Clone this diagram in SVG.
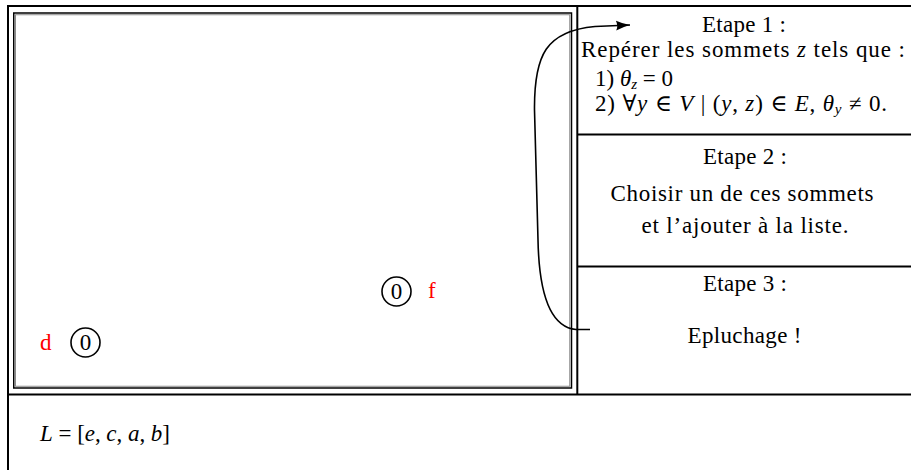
<svg xmlns="http://www.w3.org/2000/svg" width="911" height="470" viewBox="0 0 911 470">
<defs>
<style>
 text { font-family: "Liberation Serif", "DejaVu Serif", serif; font-size: 23px; fill: #000; }
 .c { text-anchor: middle; }
 .i { font-style: italic; }
 .s { font-size: 15px; }
 .red { fill: #ff0000; }
 .rule { stroke: #000; stroke-width: 2; fill: none; }
 .inner { stroke: #000; stroke-width: 1.5; fill: none; }
 .inner2 { stroke: #8a8a8a; stroke-width: 1; fill: none; }
 .node { fill: #fff; stroke: #000; stroke-width: 1.6; }
 .edge { fill: none; stroke: #000; stroke-width: 1.6; }
</style>
<marker id="ah" markerWidth="16" markerHeight="12" refX="14" refY="6" orient="auto" markerUnits="userSpaceOnUse">
 <path d="M0,1 Q7,4.5 14,6 Q7,7.5 0,11 Q2.5,6 0,1 Z" fill="#000"/>
</marker>
</defs>
<rect width="911" height="470" fill="#fff"/>

<g id="layout">
 <path class="rule" d="M8,470 V6 H911"/>
 <path class="rule" d="M8,394.5 H911"/>
 <path class="rule" d="M577.3,6 V394.5"/>
 <path class="rule" d="M577.3,134.5 H911 M577.3,266.5 H911"/>
 <rect class="inner" x="13.75" y="13" width="557.75" height="375"/>
 <rect class="inner2" x="15.5" y="14.75" width="554.25" height="371.5"/>
</g>

<g id="step1">
 <text class="c" x="744" y="32" textLength="84">Etape 1 :</text>
 <text class="c" x="743" y="57" textLength="324">Repérer les sommets <tspan class="i">z</tspan> tels que :</text>
 <text x="595" y="86">1) <tspan class="i">θ</tspan><tspan class="i s" dy="3">z</tspan><tspan dy="-3"> = 0</tspan></text>
 <text x="595" y="111" textLength="292">2) ∀<tspan class="i">y</tspan> ∈ <tspan class="i">V</tspan> | (<tspan class="i">y</tspan>, <tspan class="i">z</tspan>) ∈ <tspan class="i">E</tspan>, <tspan class="i">θ</tspan><tspan class="i s" dy="3">y</tspan><tspan dy="-3"> ≠ 0.</tspan></text>
</g>

<g id="step2">
 <text class="c" x="745" y="164" textLength="84">Etape 2 :</text>
 <text class="c" x="742" y="201" textLength="263">Choisir un de ces sommets</text>
 <text class="c" x="745" y="233" textLength="207">et l’ajouter à la liste.</text>
</g>

<g id="step3">
 <text class="c" x="745" y="291" textLength="84">Etape 3 :</text>
 <text class="c" x="744.5" y="343" textLength="114">Epluchage !</text>
</g>

<g id="node-f">
 <circle class="node" cx="396.5" cy="291.5" r="14.5"/>
 <text class="c" x="396.5" y="299">0</text>
 <text class="red" x="428" y="298">f</text>
</g>

<g id="node-d">
 <circle class="node" cx="85.5" cy="342.5" r="14.5"/>
 <text class="c" x="85.5" y="350">0</text>
 <text class="red" x="40" y="350">d</text>
</g>

<g id="list">
 <text x="40" y="441" textLength="130"><tspan class="i">L</tspan> = [<tspan class="i">e</tspan>, <tspan class="i">c</tspan>, <tspan class="i">a</tspan>, <tspan class="i">b</tspan>]</text>
</g>

<g id="connectors">
 <path class="edge" marker-end="url(#ah)" d="M590,329.5 L576,329.5 C549,327 539,292 538,240 L534.5,110 C534,55 546,31 595,26.5 L630,25"/>
</g>
</svg>
